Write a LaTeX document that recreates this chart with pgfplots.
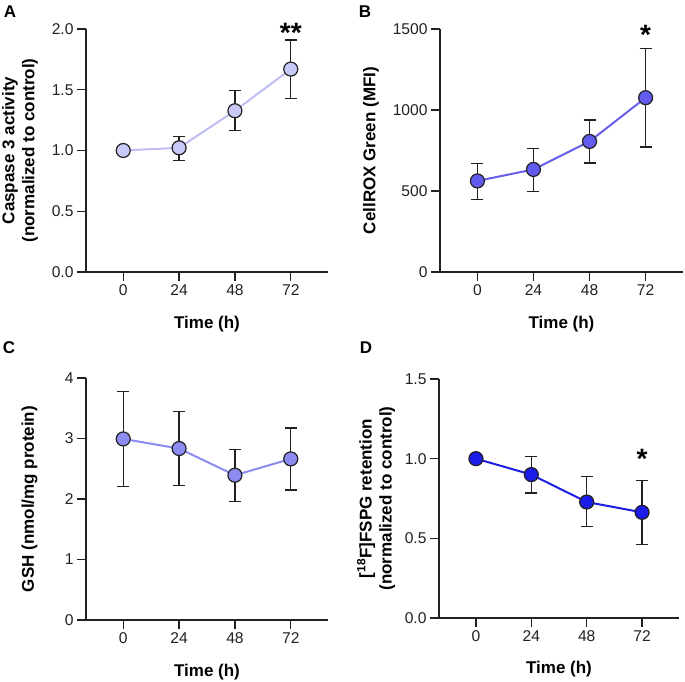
\documentclass[border=0pt]{standalone}
\usepackage{fontspec}
\setmainfont{Liberation Sans}
\usepackage{pgfplots}
\pgfplotsset{compat=1.18}
\definecolor{axc}{rgb}{0.13,0.13,0.13}
\definecolor{fillA}{RGB}{201,201,248}
\definecolor{lineA}{RGB}{190,190,244}
\definecolor{fillB}{RGB}{98,92,238}
\definecolor{lineB}{RGB}{104,96,236}
\definecolor{fillC}{RGB}{140,140,240}
\definecolor{lineC}{RGB}{140,140,240}
\definecolor{fillD}{RGB}{28,28,232}
\definecolor{lineD}{RGB}{30,30,226}
\tikzset{sigstar/.style={font=\bfseries\fontsize{28}{28}\selectfont, anchor=base, inner sep=0pt}}
\pgfplotsset{
  panel/.style={
    scale only axis,
    axis x line=bottom, axis y line=left,
    axis line style={-, line width=1.3pt, color=axc},
    xmin=-16, xmax=88, xtick={0,24,48,72},
    tick align=outside, major tick length=9pt,
    tick style={line width=1.3pt, color=axc},
    every tick label/.append style={font=\fontsize{15.6}{18}\selectfont, text=axc},
    /pgf/number format/assume math mode=true,
    /pgf/number format/1000 sep={},
    xlabel={Time (h)},
    label style={font=\bfseries\fontsize{17}{20}\selectfont, align=center},
    xlabel style={at={(axis description cs:0.5,-0.214)}, anchor=center},
    clip=false,
  },
  ser/.style 2 args={
    color=#2, line width=2pt, mark=*, mark size=7pt,
    mark options={fill=#1, draw=axc, line width=1.2pt},
    error bars/.cd, y dir=both, y explicit,
    error bar style={line width=1.3pt, color=axc},
    error mark options={rotate=90, mark size=6pt, line width=1.3pt, color=axc},
  },
}
\begin{document}
\begin{tikzpicture}
\path[use as bounding box] (0,0) rectangle (685pt,682pt);
\node[font=\bfseries\fontsize{17}{20}\selectfont] at (10pt,670pt) {A};
\node[font=\bfseries\fontsize{17}{20}\selectfont] at (365pt,670pt) {B};
\node[font=\bfseries\fontsize{17}{20}\selectfont] at (9pt,334pt) {C};
\node[font=\bfseries\fontsize{17}{20}\selectfont] at (366pt,334pt) {D};

% Panel A
\begin{axis}[panel, at={(86pt,410pt)}, anchor=south west, width=242pt, height=243pt,
  ymin=0, ymax=2, ytick={0,0.5,1,1.5,2},
  yticklabel style={/pgf/number format/fixed, /pgf/number format/fixed zerofill, /pgf/number format/precision=1},
  ylabel={Caspase 3 activity\\(normalized to control)},
  ylabel style={at={(axis description cs:-0.273,0.5)}, anchor=center}]
\addplot[ser={fillA}{lineA}] table[x=x, y=y, y error plus=ep, y error minus=em] {
x y ep em
0 1.0 0 0
24 1.022 0.096 0.102
48 1.327 0.165 0.165
72 1.670 0.239 0.241
};
\node[sigstar] at (axis cs:72,1.885) {**};
\end{axis}

% Panel B
\begin{axis}[panel, at={(440pt,410pt)}, anchor=south west, width=243pt, height=243pt,
  ymin=0, ymax=1500, ytick={0,500,1000,1500},
  ylabel={CellROX Green (MFI)},
  ylabel style={at={(axis description cs:-0.284,0.5)}, anchor=center}]
\addplot[ser={fillB}{lineB}] table[x=x, y=y, y error plus=ep, y error minus=em] {
x y ep em
0 562 108 113
24 633 129 134
48 806 132 134
72 1076 302 305
};
\node[sigstar] at (axis cs:72,1407) {*};
\end{axis}

% Panel C
\begin{axis}[panel, at={(86pt,62pt)}, anchor=south west, width=242pt, height=242pt,
  ymin=0, ymax=4, ytick={0,1,2,3,4},
  ylabel={GSH (nmol/mg protein)},
  ylabel style={at={(axis description cs:-0.233,0.5)}, anchor=center}]
\addplot[ser={fillC}{lineC}] table[x=x, y=y, y error plus=ep, y error minus=em] {
x y ep em
0 2.993 0.787 0.783
24 2.834 0.610 0.606
48 2.393 0.424 0.429
72 2.663 0.512 0.512
};
\end{axis}

% Panel D
\begin{axis}[panel, at={(439pt,64pt)}, anchor=south west, width=240pt, height=239pt,
  ymin=0, ymax=1.5, ytick={0,0.5,1,1.5},
  yticklabel style={/pgf/number format/fixed, /pgf/number format/fixed zerofill, /pgf/number format/precision=1},
  ylabel={[\textsuperscript{18}F]FSPG retention\\(normalized to control)},
  ylabel style={at={(axis description cs:-0.262,0.5)}, anchor=center}]
\addplot[ser={fillD}{lineD}] table[x=x, y=y, y error plus=ep, y error minus=em] {
x y ep em
0 1.0 0 0
24 0.900 0.113 0.115
48 0.728 0.159 0.155
72 0.663 0.201 0.203
};
\node[sigstar] at (axis cs:72,0.941) {*};
\end{axis}
\end{tikzpicture}
\end{document}
